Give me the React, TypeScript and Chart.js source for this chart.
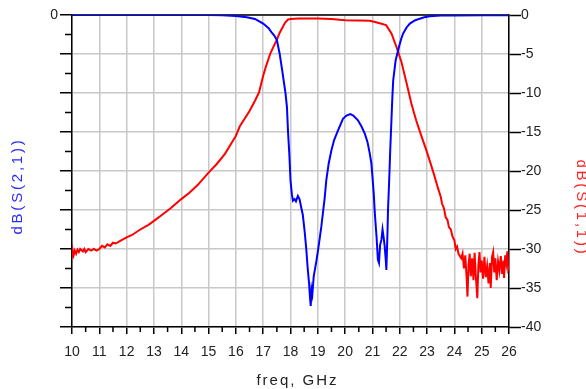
import React, { useEffect, useRef } from "react";
import { Chart, registerables } from "chart.js";

Chart.register(...registerables);

// ---- Data ----
const s21Freq = [10, 11, 12, 13, 14, 15, 15.5, 16, 16.4, 16.7, 17.0, 17.2, 17.3, 17.4, 17.5, 17.6, 17.7, 17.75, 17.82, 17.87, 17.91, 17.96, 18.0, 18.05, 18.09, 18.15, 18.2, 18.27, 18.33, 18.4, 18.45, 18.52, 18.58, 18.63, 18.68, 18.72, 18.74, 18.77, 18.8, 18.85, 18.89, 18.95, 19.01, 19.07, 19.13, 19.2, 19.25, 19.31, 19.4, 19.5, 19.6, 19.74, 19.92, 20.05, 20.19, 20.3, 20.47, 20.6, 20.72, 20.82, 20.9, 20.96, 21.0, 21.05, 21.08, 21.12, 21.15, 21.2, 21.24, 21.28, 21.33, 21.37, 21.41, 21.45, 21.49, 21.51, 21.55, 21.57, 21.61, 21.65, 21.7, 21.73, 21.76, 21.85, 21.97, 22.05, 22.12, 22.25, 22.37, 22.55, 22.73, 22.9, 23.1, 23.5, 24, 25, 26];
const s21dB = [0, 0, 0, 0, 0, 0, -0.02, -0.12, -0.3, -0.5, -1.1, -1.7, -2.2, -2.6, -3.2, -4.9, -7.2, -8.4, -10.1, -11.8, -15.0, -18.0, -21.2, -23.0, -23.8, -23.6, -23.9, -23.2, -23.6, -24.8, -25.6, -27.8, -30.1, -32.5, -34.4, -36.5, -37.3, -35.2, -35.8, -33.5, -32.7, -31.5, -30.1, -28.6, -27.1, -25.0, -23.5, -21.2, -19.0, -17.3, -16.0, -14.8, -13.3, -12.9, -12.7, -12.9, -13.5, -14.3, -15.2, -16.3, -17.7, -19.0, -20.7, -23.0, -25.0, -27.0, -28.4, -31.4, -31.8, -29.5, -28.8, -27.5, -28.5, -29.7, -31.5, -32.7, -28.0, -25.0, -21.5, -17.5, -13.1, -10.5, -8.4, -5.8, -4.1, -3.1, -2.4, -1.6, -1.1, -0.7, -0.47, -0.3, -0.17, -0.08, -0.05, -0.03, -0.03];

const s11Freq = [10.0, 10.03, 10.06, 10.1, 10.15, 10.2, 10.25, 10.3, 10.4, 10.45, 10.5, 10.6, 10.7, 10.8, 10.9, 11.0, 11.1, 11.2, 11.3, 11.4, 11.5, 11.6, 11.8, 12.0, 12.2, 12.5, 12.8, 13.0, 13.3, 13.6, 14.0, 14.3, 14.6, 15.0, 15.3, 15.6, 16.0, 16.14, 16.5, 16.7, 16.85, 17.0, 17.1, 17.26, 17.4, 17.5, 17.6, 17.8, 17.9, 18.0, 18.3, 18.6, 19.0, 19.5, 19.8, 20.0, 20.5, 20.9, 21.1, 21.3, 21.5, 21.7, 21.88, 22.06, 22.24, 22.43, 22.6, 22.8, 22.95, 23.1, 23.25, 23.4, 23.5, 23.55, 23.62, 23.68, 23.75, 23.8, 23.87, 23.93, 24.0, 24.05, 24.1, 24.15, 24.25, 24.3, 24.35, 24.4, 24.45, 24.48, 24.52, 24.56, 24.6, 24.65, 24.7, 24.74, 24.78, 24.84, 24.88, 24.92, 24.96, 25.0, 25.05, 25.1, 25.15, 25.2, 25.25, 25.3, 25.33, 25.38, 25.42, 25.46, 25.5, 25.55, 25.6, 25.65, 25.7, 25.75, 25.8, 25.82, 25.86, 25.9, 25.94, 25.97, 26.0];
const s11dB = [-31.0, -30.3, -30.8, -30.2, -30.6, -30.1, -30.4, -30.0, -30.3, -30.0, -30.4, -30.0, -30.2, -30.0, -30.2, -30.0, -29.6, -29.8, -29.4, -29.6, -29.2, -29.3, -28.9, -28.5, -28.2, -27.5, -26.9, -26.4, -25.6, -24.8, -23.6, -22.8, -21.8, -20.2, -19.1, -17.8, -15.5, -14.3, -12.3, -11.0, -9.9, -7.8, -6.6, -4.95, -3.9, -3.2, -2.3, -1.0, -0.6, -0.5, -0.45, -0.45, -0.45, -0.5, -0.62, -0.68, -0.72, -0.75, -0.9, -1.1, -1.3, -2.4, -4.1, -6.0, -8.6, -11.4, -13.5, -15.6, -17.1, -18.7, -20.4, -22.2, -23.3, -24.2, -24.8, -25.9, -26.3, -27.2, -27.5, -28.4, -28.9, -30.0, -29.7, -30.6, -31.2, -30.6, -32.5, -30.8, -33.8, -36.1, -32.0, -30.6, -33.5, -31.2, -34.0, -30.5, -33.2, -36.3, -32.0, -30.4, -33.0, -31.5, -33.8, -31.0, -33.6, -32.2, -34.4, -31.8, -35.0, -31.0, -30.4, -33.0, -31.2, -34.0, -31.6, -32.8, -30.9, -33.2, -31.5, -33.7, -30.8, -31.8, -30.3, -32.6, -32.3];

const xMajorTicks = [10, 11, 12, 13, 14, 15, 16, 17, 18, 19, 20, 21, 22, 23, 24, 25, 26];
const xMinorTicks = [10.5, 11.5, 12.5, 13.5, 14.5, 15.5, 16.5, 17.5, 18.5, 19.5, 20.5, 21.5, 22.5, 23.5, 24.5, 25.5];
const yMinorTicks = [-2.5, -7.5, -12.5, -17.5, -22.5, -27.5, -32.5, -37.5];

const xTitle = "freq, GHz";
const yLeftTitle = "dB(S(2,1))";
const yRightTitle = "dB(S(1,1))";

const FONT = "'Liberation Sans', Arial, sans-serif";
const BLUE = "#0000ff";
const RED = "#ff0000";
const GRID = "#c8c8c8";
const TEXT = "#222222";

const decorPlugin = {
  id: "decor",
  beforeDatasetsDraw(chart: any) {
    const { ctx, chartArea, scales } = chart;
    ctx.save();
    ctx.strokeStyle = "#000";
    ctx.lineWidth = 1.5;
    // top frame line
    ctx.beginPath();
    ctx.moveTo(chartArea.left, chartArea.top);
    ctx.lineTo(chartArea.right, chartArea.top);
    ctx.stroke();
    // minor ticks on left axis
    ctx.beginPath();
    yMinorTicks.forEach((v) => {
      const y = scales.y.getPixelForValue(v);
      ctx.moveTo(chartArea.left - 7, y);
      ctx.lineTo(chartArea.left, y);
    });
    // minor ticks on x axis
    xMinorTicks.forEach((v) => {
      const x = scales.x.getPixelForValue(v);
      ctx.moveTo(x, chartArea.bottom);
      ctx.lineTo(x, chartArea.bottom + 5);
    });
    ctx.stroke();
    ctx.restore();
  },
  afterDraw(chart: any) {
    const { ctx, chartArea } = chart;
    const cx = (chartArea.left + chartArea.right) / 2;
    ctx.save();
    ctx.textAlign = "center";
    ctx.textBaseline = "middle";
    // x title
    ctx.font = `15px ${FONT}`;
    (ctx as any).letterSpacing = "2px";
    ctx.fillStyle = TEXT;
    ctx.fillText(xTitle, cx + 7, 381);
    // left title
    (ctx as any).letterSpacing = "2.8px";
    ctx.save();
    ctx.translate(18, 186);
    ctx.rotate(-Math.PI / 2);
    ctx.fillStyle = "#2b2bff";
    ctx.fillText(yLeftTitle, 0, 0);
    ctx.restore();
    // right title
    ctx.save();
    ctx.translate(581, 208);
    ctx.rotate(Math.PI / 2);
    ctx.fillStyle = "#ff2020";
    ctx.fillText(yRightTitle, 0, 0);
    ctx.restore();
    ctx.restore();
  },
};

export default function App() {
  const ref = useRef<HTMLCanvasElement | null>(null);
  useEffect(() => {
    if (!ref.current) return;
    const chart = new Chart(ref.current, {
      type: "line",
      data: {
        datasets: [
          {
            label: yLeftTitle,
            data: s21Freq.map((f, i) => ({ x: f, y: s21dB[i] })),
            borderColor: BLUE,
            borderWidth: 2,
            pointRadius: 0,
            tension: 0,
            yAxisID: "y",
          },
          {
            label: yRightTitle,
            data: s11Freq.map((f, i) => ({ x: f, y: s11dB[i] })),
            borderColor: RED,
            borderWidth: 2,
            pointRadius: 0,
            tension: 0,
            yAxisID: "y2",
          },
        ],
      },
      options: {
        responsive: false,
        animation: false,
        devicePixelRatio: 1,
        layout: { padding: { top: 15, left: 0, right: 0, bottom: 0 } },
        plugins: { legend: { display: false }, tooltip: { enabled: false } },
        scales: {
          x: {
            type: "linear",
            position: "bottom",
            min: 10,
            max: 26,
            afterBuildTicks: (s: any) => {
              s.ticks = xMajorTicks.map((v) => ({ value: v }));
            },
            afterFit: (s: any) => {
              s.height = 62;
            },
            ticks: {
              autoSkip: false,
              maxRotation: 0,
              padding: 10,
              color: TEXT,
              font: { family: FONT, size: 14 },
              callback: (v: any) => String(v),
            },
            grid: { color: GRID, lineWidth: 1.5, tickColor: "#000", tickWidth: 1.5, tickLength: 7 },
            border: { color: "#000", width: 1.5 },
          },
          y: {
            type: "linear",
            position: "left",
            min: -40,
            max: 0,
            ticks: {
              stepSize: 5,
              padding: 2,
              color: TEXT,
              font: { family: FONT, size: 14 },
              callback: (v: any) => (v === 0 ? "0" : ""),
            },
            afterFit: (s: any) => {
              s.width = 72;
            },
            grid: { color: GRID, lineWidth: 1.5, tickColor: "#000", tickWidth: 1.5, tickLength: 12 },
            border: { color: "#000", width: 1.5 },
          },
          y2: {
            type: "linear",
            position: "right",
            min: -40,
            max: 0,
            ticks: {
              stepSize: 5,
              padding: 0,
              color: TEXT,
              font: { family: FONT, size: 14 },
              callback: (v: any) => String(v),
            },
            afterFit: (s: any) => {
              s.width = 77;
            },
            grid: { drawOnChartArea: false, tickColor: "#000", tickWidth: 1.5, tickLength: 12 },
            border: { color: "#000", width: 1.5 },
          },
        },
      },
      plugins: [decorPlugin],
    } as any);
    return () => chart.destroy();
  }, []);
  return (
    <div style={{ position: "absolute", left: 0, top: 0, width: 586, height: 389, background: "#fff" }}>
      <canvas ref={ref} width={586} height={389} style={{ width: 586, height: 389, display: "block" }} />
    </div>
  );
}
